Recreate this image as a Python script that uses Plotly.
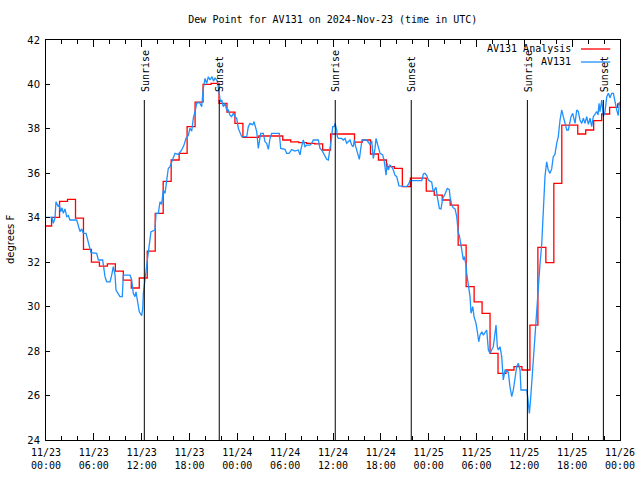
import datetime as dt
import plotly.graph_objects as go

# ---------------- data ----------------
start = dt.datetime(2024, 11, 23, 0, 0)
end = dt.datetime(2024, 11, 26, 0, 0)

# hourly analysis values (step changes happen ~0.3 h before each hour mark + 1)
red_step_offset_h = -0.3
red_values = [
    33.63, 34.02, 34.74, 34.83, 33.98, 32.58, 32.00, 31.82, 31.93, 31.60,
    31.19, 30.84, 31.29, 32.50, 34.20, 35.64, 36.60, 36.90, 38.10, 39.20,
    40.00, 40.05, 39.15, 38.75, 38.25, 37.62, 37.62, 37.68, 37.68, 37.68,
    37.50, 37.42, 37.38, 37.35, 37.33, 37.05, 37.77, 37.77, 37.77, 37.40,
    37.50, 36.87, 36.60, 36.30, 36.22, 35.40, 35.78, 35.78, 35.20, 35.02,
    34.80, 34.57, 32.77, 30.90, 30.22, 29.70, 27.90, 27.00, 27.15, 27.30,
    27.15, 29.17, 32.67, 31.98, 35.55, 38.17, 38.17, 37.77, 37.95, 38.37,
    38.67, 38.97, 39.12,
]

# observations: hours after 11/23 00:00 UTC and dew point (F)
blue_hours = [
    0.00, 0.75, 0.92, 1.13, 1.25, 1.54, 1.67, 1.84, 2.01, 2.17, 2.38, 2.60, 2.80, 3.01,
    3.85, 4.05, 4.27, 4.48, 4.68, 5.02, 5.18, 5.43, 5.64, 6.36, 6.56, 7.11, 7.19, 7.40,
    7.61, 8.03, 8.24, 8.44, 8.66, 8.78, 9.03, 9.28, 9.57, 9.70, 10.54, 10.75, 10.95,
    11.16, 11.29, 11.50, 11.70, 12.00, 12.13, 12.21, 12.42, 12.54, 12.71, 12.96, 13.17,
    13.67, 13.80, 14.09, 14.30, 14.51, 14.71, 14.93, 15.14, 15.34, 15.55, 15.77, 16.18,
    16.60, 17.02, 17.31, 17.56, 17.85, 18.06, 18.28, 18.48, 18.69, 18.90, 19.23, 19.53,
    19.73, 19.95, 20.16, 20.36, 20.57, 20.82, 21.01, 21.20, 21.49, 21.74, 21.89, 22.04,
    22.24, 22.45, 22.67, 22.87, 23.08, 23.29, 23.50, 23.71, 23.92, 24.12, 24.33, 24.55,
    25.18, 25.38, 25.59, 25.93, 26.09, 26.22, 26.43, 26.63, 26.76, 26.93, 27.26, 27.47,
    27.68, 27.89, 28.10, 28.31, 29.27, 29.44, 29.98, 30.19, 30.48, 30.82, 31.23, 31.65,
    31.86, 31.99, 32.28, 32.49, 32.70, 33.12, 33.33, 33.53, 34.16, 34.37, 34.58, 34.87,
    35.21, 35.41, 35.62, 35.84, 35.96, 36.13, 36.25, 36.47, 36.54, 36.67, 37.09, 37.29,
    37.51, 37.72, 38.13, 38.35, 38.55, 38.67, 38.85, 38.98, 39.17, 39.30, 39.48, 39.64,
    40.23, 40.43, 40.64, 40.86, 40.98, 41.06, 41.27, 41.40, 41.56, 41.90, 42.23, 42.40,
    42.52, 42.65, 42.81, 42.94, 43.15, 43.36, 43.57, 43.78, 43.99, 44.28, 45.25, 45.45,
    45.66, 47.13, 47.33, 47.54, 47.76, 47.96, 48.38, 48.58, 48.80, 48.92, 49.08, 49.34,
    49.55, 49.76, 50.05, 50.34, 50.59, 50.68, 50.89, 51.09, 51.31, 51.52, 51.72, 51.84,
    52.02, 52.27, 52.35, 52.47, 52.69, 52.77, 52.97, 53.19, 53.31, 53.53, 53.69, 53.94,
    54.11, 54.28, 54.44, 54.66, 54.86, 55.07, 55.28, 55.49, 55.70, 56.11, 56.32, 56.45,
    56.61, 56.74, 56.95, 57.16, 57.36, 57.58, 57.79, 57.99, 58.20, 58.42, 58.62, 58.83,
    59.04, 59.25, 59.46, 59.58, 60.30, 60.42, 60.63, 60.80, 60.93, 61.13, 61.34, 61.55,
    61.75, 61.97, 62.18, 62.38, 62.59, 62.80, 63.00, 63.22, 63.43, 63.63, 63.84, 64.06,
    64.26, 64.48, 64.69, 64.89, 65.10, 65.32, 65.52, 65.73, 65.86, 66.07, 66.36, 66.57,
    66.77, 66.98, 67.20, 67.40, 67.61, 67.82, 68.03, 68.24, 68.45, 68.65, 68.87, 69.08,
    69.24, 69.37, 69.49, 69.71, 69.91, 70.12, 70.34, 70.54, 70.75, 70.96, 71.17, 71.38,
    71.59, 71.79, 71.92,
]
blue_values = [
    34.02, 34.02, 33.75, 34.00, 34.72, 34.50, 34.60, 34.27, 34.45, 34.20, 34.40, 34.05, 34.10, 33.90,
    33.90, 33.60, 33.38, 33.50, 33.30, 33.30, 33.08, 32.77, 32.43, 32.40, 32.10, 32.10, 31.80, 31.35,
    31.12, 31.12, 31.42, 31.80, 31.42, 30.75, 30.60, 30.45, 30.45, 31.42, 31.42, 31.20, 30.60,
    30.45, 30.67, 30.15, 29.77, 29.60, 29.90, 30.60, 31.10, 31.57, 32.10, 32.85, 33.37,
    33.45, 34.20, 34.20, 34.72, 34.60, 35.25, 35.10, 35.80, 36.22, 36.30, 36.50, 36.90,
    36.85, 37.05, 37.27, 37.58, 37.70, 38.03, 37.90, 38.48, 38.77, 39.15, 39.20, 39.00,
    39.82, 40.27, 40.05, 40.35, 40.20, 40.35, 40.15, 40.30, 40.15, 39.52, 39.22, 39.30,
    39.00, 39.15, 38.85, 38.85, 38.62, 38.55, 38.70, 38.55, 38.48, 38.03, 37.88, 37.65,
    37.65, 38.10, 38.25, 38.18, 38.33, 38.10, 37.88, 37.12, 37.50, 37.80, 37.80, 37.42,
    37.35, 37.08, 37.57, 37.80, 37.80, 37.12, 37.08, 36.90, 36.90, 37.07, 37.00, 37.05,
    36.83, 37.10, 37.50, 37.20, 37.27, 37.27, 37.35, 37.50, 37.50, 37.12, 37.05, 36.83,
    36.63, 36.60, 37.05, 37.65, 38.10, 38.10, 38.25, 37.95, 37.65, 37.57, 37.57, 37.50,
    37.57, 37.35, 37.50, 37.27, 37.20, 37.50, 37.20, 37.05, 36.83, 36.63, 37.10, 37.50,
    37.50, 37.40, 37.30, 37.45, 37.05, 36.67, 37.12, 37.57, 37.35, 36.90, 36.83, 36.60,
    36.30, 35.92, 36.45, 36.15, 36.37, 36.30, 36.15, 35.92, 35.85, 35.43, 35.40, 35.50,
    35.67, 35.67, 35.97, 36.00, 35.90, 35.70, 35.60, 35.17, 35.30, 35.37, 34.95, 34.42,
    34.40, 34.87, 35.07, 35.32, 35.27, 34.95, 34.57, 34.45, 34.40, 34.05, 33.30, 33.22,
    32.85, 32.25, 32.10, 32.25, 31.87, 31.50, 31.05, 30.45, 29.70, 30.00, 29.55, 29.25,
    28.87, 28.42, 28.72, 28.87, 28.72, 28.87, 28.95, 28.05, 27.90, 28.20, 28.95, 29.17,
    28.20, 28.05, 28.20, 27.75, 26.70, 27.15, 27.10, 27.05, 26.40, 25.95, 26.25, 26.70,
    27.30, 27.45, 27.15, 26.25, 26.25, 25.95, 25.20, 25.90, 26.60, 27.60, 28.50, 30.00,
    31.05, 31.95, 32.80, 34.30, 35.85, 36.52, 36.15, 36.00, 36.20, 36.75, 36.85, 37.35,
    37.65, 38.40, 38.85, 38.55, 38.25, 37.95, 37.95, 38.25, 38.55, 38.70, 38.25, 38.85,
    38.78, 38.40, 38.25, 38.48, 38.25, 38.55, 38.20, 38.48, 38.10, 38.55, 38.70, 38.78,
    38.63, 39.15, 38.78, 39.30, 38.55, 38.78, 39.45, 39.60, 39.40, 39.60, 39.60, 39.15,
    38.85, 38.60, 39.22,
]

sun_labels = ["Sunrise", "Sunset", "Sunrise", "Sunset", "Sunrise", "Sunset"]
sun_times = ["2024-11-23 12:20", "2024-11-23 21:44", "2024-11-24 12:17",
             "2024-11-24 21:49", "2024-11-25 12:23", "2024-11-25 21:55"]

series_names = ["AV131 Analysis", "AV131"]
y_ticks = list(range(24, 43, 2))

# ---------------- figure ----------------
RED = "#ff0000"
BLUE = "#1e90ff"
MONO = "DejaVu Sans Mono"
SANS = "DejaVu Sans"

red_x = [start + dt.timedelta(hours=k + red_step_offset_h) for k in range(len(red_values))] + [end]
red_y = red_values + [red_values[-1]]
blue_x = [start + dt.timedelta(hours=h) for h in blue_hours]

fig = go.Figure()
fig.add_trace(go.Scatter(x=red_x, y=red_y, mode="lines", line=dict(color=RED, width=1.3, shape="hv"),
                         name=series_names[0], showlegend=False))
fig.add_trace(go.Scatter(x=blue_x, y=blue_values, mode="lines", line=dict(color=BLUE, width=1.3),
                         name=series_names[1], showlegend=False))

line_top = 39.3
for lab, t in zip(sun_labels, sun_times):
    tt = dt.datetime.strptime(t, "%Y-%m-%d %H:%M")
    fig.add_shape(type="line", xref="x", yref="y", x0=tt, x1=tt, y0=24, y1=line_top,
                  line=dict(color="black", width=1))
    fig.add_annotation(x=tt, y=line_top + 0.28, xref="x", yref="y", text=lab, textangle=-90,
                       showarrow=False, xanchor="center", yanchor="bottom", xshift=1,
                       font=dict(family=MONO, size=10, color="black"))

# legend (gnuplot style: text then sample line)
for i, (nm, col) in enumerate(zip(series_names, [RED, BLUE])):
    yp = 0.9775 - i * 0.0325
    fig.add_annotation(x=0.918, y=yp, xref="paper", yref="paper", text=nm, showarrow=False,
                       xanchor="right", yanchor="middle", font=dict(family=MONO, size=10, color="black"))
    fig.add_shape(type="line", xref="paper", yref="paper", x0=0.932, x1=0.983, y0=yp, y1=yp,
                  line=dict(color=col, width=1.3))

fig.add_annotation(x=-0.0627, y=0.5, xref="paper", yref="paper", text="degrees F", textangle=-90,
                   showarrow=False, xanchor="center", yanchor="middle",
                   font=dict(family=SANS, size=10, color="black"))

fig.update_layout(
    width=640, height=480,
    margin=dict(l=46, r=20, t=40, b=40, autoexpand=False),
    paper_bgcolor="white", plot_bgcolor="white",
    title=dict(text="Dew Point for AV131 on 2024-Nov-23 (time in UTC)", x=0.52, xanchor="center",
               y=0.96, yanchor="middle", yref="container",
               font=dict(family=MONO, size=10, color="black")),
    showlegend=False,
)
fig.update_xaxes(
    range=[start, end], type="date", showgrid=False, zeroline=False, automargin=False,
    showline=True, linecolor="black", linewidth=1, mirror="allticks",
    ticks="inside", ticklen=7, tickcolor="black", tickwidth=1,
    dtick=6 * 3600 * 1000, tick0=start, tickformat="%m/%d<br>%H:%M",
    tickfont=dict(family=MONO, size=10, color="black"), ticklabelstandoff=3,
    minor=dict(dtick=2 * 3600 * 1000, ticks="inside", ticklen=4, tickcolor="black", showgrid=False),
)
fig.update_yaxes(
    range=[24, 42], showgrid=False, zeroline=False, automargin=False,
    showline=True, linecolor="black", linewidth=1, mirror="allticks",
    ticks="inside", ticklen=4, tickcolor="black", tickwidth=1,
    tickvals=y_ticks, ticktext=[str(v) for v in y_ticks],
    tickfont=dict(family=SANS, size=10, color="black"), ticklabelstandoff=3,
)

fig.write_html("out.html", config={"displayModeBar": False},
               post_script="document.body.style.margin='0';")
